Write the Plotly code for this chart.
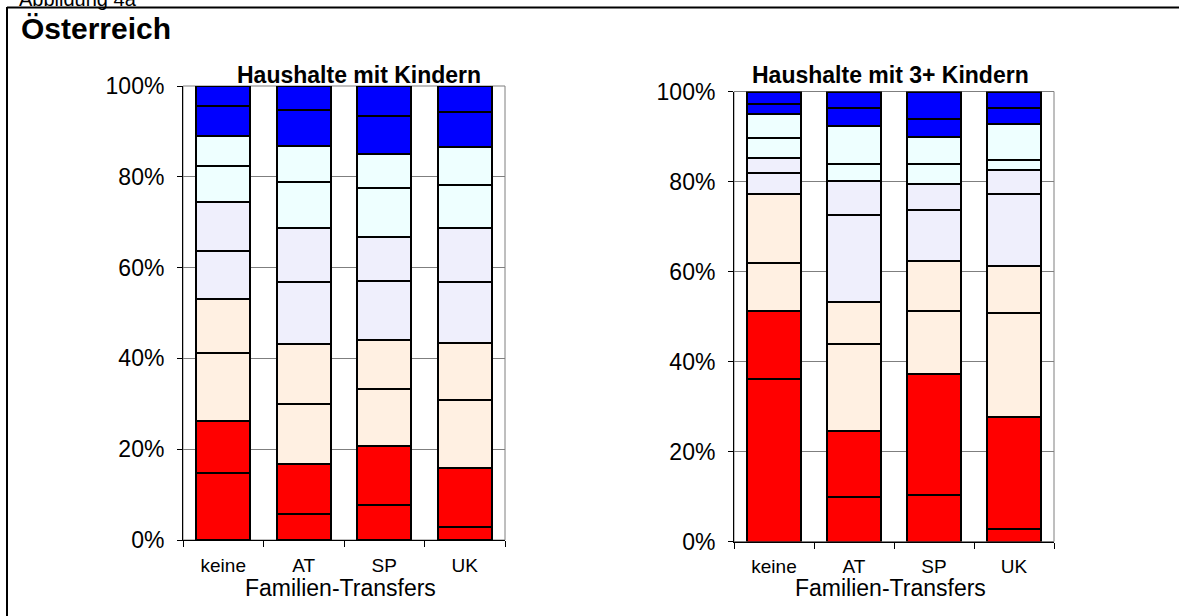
import plotly.graph_objects as go

W, H = 1179, 616

categories = ["keine", "AT", "SP", "UK"]

# share of each decile (bottom to top) per transfer scenario, in %
kids_keine = [14.8, 11.5, 15.0, 11.8, 10.6, 10.7, 8.0, 6.6, 6.6, 4.4]
kids_at = [5.7, 11.0, 13.2, 13.2, 13.7, 11.9, 10.1, 8.0, 7.9, 5.3]
kids_sp = [7.7, 12.9, 12.7, 10.7, 13.1, 9.7, 10.7, 7.5, 8.4, 6.6]
kids_uk = [2.9, 12.9, 15.0, 12.7, 13.3, 11.9, 9.6, 8.3, 7.7, 5.7]

kids3_keine = [36.2, 15.1, 10.7, 15.2, 4.8, 3.2, 4.4, 5.3, 2.3, 2.8]
kids3_at = [10.0, 14.6, 19.3, 9.3, 19.4, 7.6, 3.6, 8.5, 4.0, 3.7]
kids3_sp = [10.4, 26.8, 14.1, 11.1, 11.2, 5.8, 4.4, 6.2, 4.0, 6.0]
kids3_uk = [2.8, 24.9, 23.1, 10.4, 16.0, 5.4, 2.2, 7.9, 3.6, 3.7]

y_ticks = [0, 20, 40, 60, 80, 100]
y_labels = ["0%", "20%", "40%", "60%", "80%", "100%"]

colors = ["#FF0000", "#FF0000", "#FFF0E2", "#FFF0E2", "#EFEFFC",
          "#EFEFFC", "#EEFFFF", "#EEFFFF", "#0000FF", "#0000FF"]

FONT = "Liberation Sans, Arial, sans-serif"


def px_x(x):
    return x / W


def px_y(y):
    return 1 - y / H


fig = go.Figure()

panels = [
    ([kids_keine, kids_at, kids_sp, kids_uk], "x", "y"),
    ([kids3_keine, kids3_at, kids3_sp, kids3_uk], "x2", "y2"),
]
for bars, xa, ya in panels:
    for d in range(10):
        fig.add_trace(go.Bar(
            x=categories, y=[b[d] for b in bars], xaxis=xa, yaxis=ya,
            marker=dict(color=colors[d], line=dict(color="black", width=2)),
            showlegend=False, hoverinfo="skip",
        ))

xcommon = dict(type="category", range=[-0.5, 3.5], showline=True, linecolor="black",
               linewidth=1, ticks="outside", tickson="boundaries", ticklen=6,
               tickcolor="black", showgrid=False,
               tickfont=dict(family=FONT, size=19, color="black"), ticklabelstandoff=8)
ycommon = dict(range=[0, 100], tickmode="array", tickvals=y_ticks, ticktext=y_labels,
               showline=True, linecolor="black", linewidth=1, ticks="outside", ticklen=5,
               tickcolor="black", showgrid=True, gridcolor="#7f7f7f", gridwidth=1,
               zeroline=False, tickfont=dict(family=FONT, size=23, color="black"),
               ticklabelstandoff=8)

fig.update_layout(
    width=W, height=H, margin=dict(l=0, r=0, t=0, b=0, autoexpand=False),
    paper_bgcolor="white", plot_bgcolor="white",
    barmode="stack", bargap=0.33,
    xaxis=dict(domain=[px_x(183), px_x(505)], anchor="y", **xcommon),
    yaxis=dict(domain=[px_y(540), px_y(86)], anchor="x", **ycommon),
    xaxis2=dict(domain=[px_x(734), px_x(1054)], anchor="y2", **xcommon),
    yaxis2=dict(domain=[px_y(541.5), px_y(91.5)], anchor="x2", **ycommon),
)

# plot area borders (top/right) in gray
for x0, x1, y0, y1 in [(183, 505, 540, 86), (734, 1054, 541.5, 91.5)]:
    fig.add_shape(type="rect", xref="paper", yref="paper",
                  x0=px_x(x0), x1=px_x(x1), y0=px_y(y0), y1=px_y(y1),
                  line=dict(color="#7f7f7f", width=1), layer="below")

# outer frame
fig.add_shape(type="line", xref="paper", yref="paper", x0=px_x(7), x1=px_x(7),
              y0=px_y(7), y1=0, line=dict(color="black", width=2))
fig.add_shape(type="line", xref="paper", yref="paper", x0=px_x(7), x1=1,
              y0=px_y(7.5), y1=px_y(7.5), line=dict(color="black", width=2))

notes = [
    ("Abbildung 4a", 17, -1.5, 20, False, "left"),
    ("Österreich", 19, 29, 30, True, "left"),
    ("Haushalte mit Kindern", 359, 75, 23, True, "center"),
    ("Haushalte mit 3+ Kindern", 890, 75, 23, True, "center"),
    ("Familien-Transfers", 340, 588, 23, False, "center"),
    ("Familien-Transfers", 890, 588, 23, False, "center"),
]
for text, x, y, size, bold, anchor in notes:
    fig.add_annotation(
        text=f"<b>{text}</b>" if bold else text, xref="paper", yref="paper",
        x=px_x(x), y=px_y(y), xanchor=anchor, yanchor="middle", showarrow=False,
        font=dict(family=FONT, size=size, color="black"),
    )

# drop the browser's default page margin so the figure sits at the window's corner
fig.write_html("out.html", config={"displayModeBar": False},
               post_script="document.body.style.margin = '0';")
